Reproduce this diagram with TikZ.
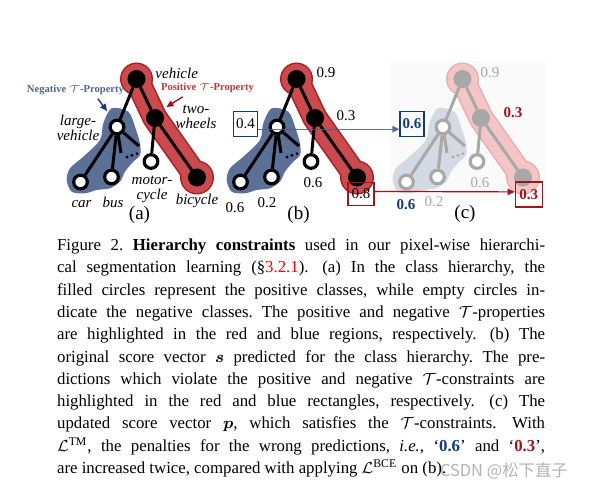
\documentclass[tikz,border=0pt]{standalone}
\usepackage{amsmath,amssymb}
\usepackage{fontspec}
\setmainfont{Liberation Serif}
\newfontfamily\cjkfont{Noto Sans CJK SC}
\usetikzlibrary{arrows.meta, positioning}
\definecolor{posfill}{HTML}{C94B4E}
\definecolor{posedge}{HTML}{B01D24}
\definecolor{negfill}{HTML}{5B6F97}
\definecolor{negtext}{HTML}{52648F}
\definecolor{negdark}{HTML}{123A7A}
\definecolor{negline}{HTML}{4A5E8A}
\definecolor{posdark}{HTML}{A3141A}
\definecolor{postext}{HTML}{C0393C}
\definecolor{fadepos}{HTML}{F3C5C6}
\definecolor{fadeposedge}{HTML}{EAAFB1}
\definecolor{fadeneg}{HTML}{D4DAE4}
\definecolor{fadenode}{HTML}{A8A8A8}

\newlength{\capwidth}
\setlength{\capwidth}{244pt}
\newcommand{\capline}[1]{\hbox to\capwidth{#1}}
\newcommand{\sentgap}{\hskip0.22em\relax}

\tikzset{
  posnode/.style={circle, fill=black, draw=black, line width=1.5pt, minimum size=7.5pt, inner sep=0pt},
  negnode/.style={circle, fill=white, draw=black, line width=1.6pt, minimum size=6.8pt, inner sep=0pt},
  fposnode/.style={posnode, fill=fadenode, draw=fadenode},
  fnegnode/.style={negnode, draw=fadenode},
  link/.style={line width=1.5pt},
  namelab/.style={font=\fontsize{7.5}{7.5}\selectfont\itshape, align=center, inner sep=0pt},
  scorelab/.style={font=\fontsize{7.5}{7.5}\selectfont, inner sep=0pt},
  panellab/.style={font=\fontsize{9.5}{9.5}\selectfont, inner sep=0pt},
  proplab/.style={font=\fontsize{5.3}{5.3}\selectfont\bfseries, inner sep=0pt},
  scorebox/.style={scorelab, draw, line width=0.6pt, minimum width=12pt, minimum height=12.5pt}
}

\begin{document}
\begin{tikzpicture}[x=0.5pt, y=-0.5pt, >={Triangle[length=3.5pt,width=3.2pt]}]
  \fill[white] (0,0) rectangle (589,494);
  \fill[black!2] (390,61) rectangle (545,200);

  % (a) class hierarchy
  \begin{scope}
    \fill[negfill] plot[smooth cycle] coordinates {(111.7,108.3) (128.3,111.7) (135,126.7) (140,143.3) (140,155) (133.3,161.7) (125,171.7) (120,181.7) (110,188.3) (96.7,190) (85,193.3) (71.7,191.7) (66.7,180) (70,168.3) (83.3,156.7) (100,140) (103.3,123.3)};
    \draw[posedge, line width=12.6pt, line cap=round, line join=round] (136.5,79) -- (155,118) -- (197,177.5);
    \fill[posedge] (136.5,79) circle[radius=16.5] (197,177.5) circle[radius=17];
    \draw[posfill, line width=11pt, line cap=round, line join=round] (136.5,79) -- (155,118) -- (197,177.5);
    \fill[posfill] (136.5,79) circle[radius=15] (197,177.5) circle[radius=15.5];
    \node[posnode] (a-root) at (136.5,79) {};
    \node[posnode] (a-two) at (155,118) {};
    \node[negnode] (a-large) at (117,127) {};
    \node[negnode] (a-car) at (80.5,182) {};
    \node[negnode] (a-bus) at (111.5,177) {};
    \node[negnode] (a-moto) at (151,161.5) {};
    \node[posnode] (a-bike) at (197,177.5) {};
    \coordinate (a-more1) at (121,153);
    \coordinate (a-more2) at (139,146);
    \draw[link] (a-root) -- (a-large) (a-root) -- (a-two) (a-two) -- (a-moto) (a-two) -- (a-bike)
      (a-large) -- (a-car) (a-large) -- (a-bus) (a-large) -- (a-more1) (a-large) -- (a-more2);
    \fill (127,157) circle[radius=1.6] (132,155.3) circle[radius=1.6] (137,153.6) circle[radius=1.6];
  \end{scope}
  \node[namelab] (a-rootlab) at (176.7,73) {vehicle};
  \node[namelab] (a-twolab) at (196,117) {two-\\wheels};
  \node[namelab] (a-largelab) at (78,128) {large-\\vehicle};
  \node[namelab] (a-motolab) at (152,189) {motor-\\cycle};
  \node[namelab] (a-carlab) at (81.5,204) {car};
  \node[namelab] (a-buslab) at (113,202) {bus};
  \node[namelab] (a-bikelab) at (197,201) {bicycle};
  \node[panellab] (a-cap) at (139.5,215) {(a)};

  \node[proplab, text=negtext] (neglab) at (75.5,90) {Negative $\mathcal{T}$-Property};
  \node[proplab, text=postext] (poslab) at (207.5,88) {Positive $\mathcal{T}$-Property};
  \coordinate (negtip) at (107,111);
  \coordinate (postip) at (166.5,107);
  \draw[->, negdark, line width=0.7pt] ([xshift=11.2pt,yshift=-1.8pt]neglab.south) -- (negtip);
  \draw[->, posdark, line width=0.7pt] ([xshift=-12.4pt,yshift=-1.8pt]poslab.south) -- (postip);

  % (b) original scores
  \begin{scope}[shift={(160,0)}]
    \fill[negfill] plot[smooth cycle] coordinates {(111.7,108.3) (128.3,111.7) (135,126.7) (140,143.3) (140,155) (133.3,161.7) (125,171.7) (120,181.7) (110,188.3) (96.7,190) (85,193.3) (71.7,191.7) (66.7,180) (70,168.3) (83.3,156.7) (100,140) (103.3,123.3)};
    \draw[posedge, line width=12.6pt, line cap=round, line join=round] (136.5,79) -- (155,118) -- (197,177.5);
    \fill[posedge] (136.5,79) circle[radius=16.5] (197,177.5) circle[radius=17];
    \draw[posfill, line width=11pt, line cap=round, line join=round] (136.5,79) -- (155,118) -- (197,177.5);
    \fill[posfill] (136.5,79) circle[radius=15] (197,177.5) circle[radius=15.5];
    \node[posnode] (b-root) at (136.5,79) {};
    \node[posnode] (b-two) at (155,118) {};
    \node[negnode] (b-large) at (117,127) {};
    \node[negnode] (b-car) at (80.5,182) {};
    \node[negnode] (b-bus) at (111.5,177) {};
    \node[negnode] (b-moto) at (151,161.5) {};
    \node[posnode] (b-bike) at (197,177.5) {};
    \coordinate (b-more1) at (121,153);
    \coordinate (b-more2) at (139,146);
    \draw[link] (b-root) -- (b-large) (b-root) -- (b-two) (b-two) -- (b-moto) (b-two) -- (b-bike)
      (b-large) -- (b-car) (b-large) -- (b-bus) (b-large) -- (b-more1) (b-large) -- (b-more2);
    \fill (127,157) circle[radius=1.6] (132,155.3) circle[radius=1.6] (137,153.6) circle[radius=1.6];
  \end{scope}
  \node[scorelab] (b-rootval) at (326,73) {0.9};
  \node[scorelab] (b-twoval) at (346,116) {0.3};
  \node[scorelab] (b-motoval) at (313,183) {0.6};
  \node[scorelab] (b-carval) at (235,208) {0.6};
  \node[scorelab] (b-busval) at (267,203) {0.2};
  \node[scorebox, draw=negdark] (b-largeval) at (245.5,124) {0.4};
  \node[scorebox, draw=posdark, minimum width=13pt, minimum height=11.5pt] (b-bikeval) at (361,194) {0.8};
  \node[panellab] (b-cap) at (298.5,215) {(b)};

  % (c) updated scores
  \begin{scope}[shift={(326,0)}]
    \fill[fadeneg] plot[smooth cycle] coordinates {(111.7,108.3) (128.3,111.7) (135,126.7) (140,143.3) (140,155) (133.3,161.7) (125,171.7) (120,181.7) (110,188.3) (96.7,190) (85,193.3) (71.7,191.7) (66.7,180) (70,168.3) (83.3,156.7) (100,140) (103.3,123.3)};
    \draw[fadeposedge, line width=12.6pt, line cap=round, line join=round] (136.5,79) -- (155,118) -- (197,177.5);
    \fill[fadeposedge] (136.5,79) circle[radius=16.5] (197,177.5) circle[radius=17];
    \draw[fadepos, line width=11pt, line cap=round, line join=round] (136.5,79) -- (155,118) -- (197,177.5);
    \fill[fadepos] (136.5,79) circle[radius=15] (197,177.5) circle[radius=15.5];
    \node[fposnode] (c-root) at (136.5,79) {};
    \node[fposnode] (c-two) at (155,118) {};
    \node[fnegnode] (c-large) at (117,127) {};
    \node[fnegnode] (c-car) at (80.5,182) {};
    \node[fnegnode] (c-bus) at (111.5,177) {};
    \node[fnegnode] (c-moto) at (151,161.5) {};
    \node[fposnode] (c-bike) at (197,177.5) {};
    \coordinate (c-more1) at (121,153);
    \coordinate (c-more2) at (139,146);
    \draw[link, fadenode] (c-root) -- (c-large) (c-root) -- (c-two) (c-two) -- (c-moto) (c-two) -- (c-bike)
      (c-large) -- (c-car) (c-large) -- (c-bus) (c-large) -- (c-more1) (c-large) -- (c-more2);
    \fill[fadenode] (127,157) circle[radius=1.6] (132,155.3) circle[radius=1.6] (137,153.6) circle[radius=1.6];
  \end{scope}
  \node[scorelab, text=fadenode] (c-rootval) at (490,73) {0.9};
  \node[scorelab, text=posdark, font=\fontsize{7.5}{7.5}\selectfont\bfseries] (c-twoval) at (513,113) {0.3};
  \node[scorelab, text=fadenode] (c-motoval) at (480,183) {0.6};
  \node[scorelab, text=negdark, font=\fontsize{7.5}{7.5}\selectfont\bfseries] (c-carval) at (406,205) {0.6};
  \node[scorelab, text=fadenode] (c-busval) at (434,202) {0.2};
  \node[scorebox, draw=negdark, text=negdark, font=\fontsize{7.5}{7.5}\selectfont\bfseries] (c-largeval) at (412,124) {0.6};
  \node[scorebox, draw=posdark, text=posdark, font=\fontsize{7.5}{7.5}\selectfont\bfseries, minimum width=13.5pt, minimum height=12.5pt] (c-bikeval) at (528.7,194.5) {0.3};
  \node[panellab] (c-cap) at (465,213.5) {(c)};

  \draw[->, negline, line width=0.6pt, opacity=0.85] ([yshift=-2.6pt]b-largeval.east) -- ([yshift=-2.6pt]c-largeval.west);
  \draw[->, posdark, line width=0.6pt] ([yshift=1.3pt]b-bikeval.east) -- ([yshift=1.3pt]c-bikeval.west);

  % caption
  \node[anchor=north west, inner sep=0pt, font=\fontsize{8.4}{11.15}\selectfont] (caption) at (56.7,238.5) {\vbox{\frenchspacing
    \capline{Figure 2. \textbf{Hierarchy constraints} used in our pixel-wise hierarchi-}
    \capline{cal segmentation learning (§\textcolor{red}{3.2.1}).\sentgap{} (a) In the class hierarchy, the}
    \capline{filled circles represent the positive classes, while empty circles in-}
    \capline{dicate the negative classes. The positive and negative $\mathcal{T}$-properties}
    \capline{are highlighted in the red and blue regions, respectively.\sentgap{} (b) The}
    \capline{original score vector $\boldsymbol{s}$ predicted for the class hierarchy. The pre-}
    \capline{dictions which violate the positive and negative $\mathcal{T}$-constraints are}
    \capline{highlighted in the red and blue rectangles, respectively.\sentgap{} (c) The}
    \capline{updated score vector $\boldsymbol{p}$, which satisfies the $\mathcal{T}$-constraints.\sentgap{} With}
    \capline{$\mathcal{L}^{\mathrm{TM}}$, the penalties for the wrong predictions, \textit{i.e.}, `\textbf{\textcolor{negdark}{0.6}}' and `\textbf{\textcolor{posdark}{0.3}}',}
    \hbox{are increased twice, compared with applying $\mathcal{L}^{\mathrm{BCE}}$ on (b).}}};

  \node[font=\cjkfont\fontsize{8.2}{8.2}\selectfont, text=black!40, opacity=0.75, inner sep=0pt] (mark) at (504,471) {CSDN @松下直子};
\end{tikzpicture}
\end{document}
